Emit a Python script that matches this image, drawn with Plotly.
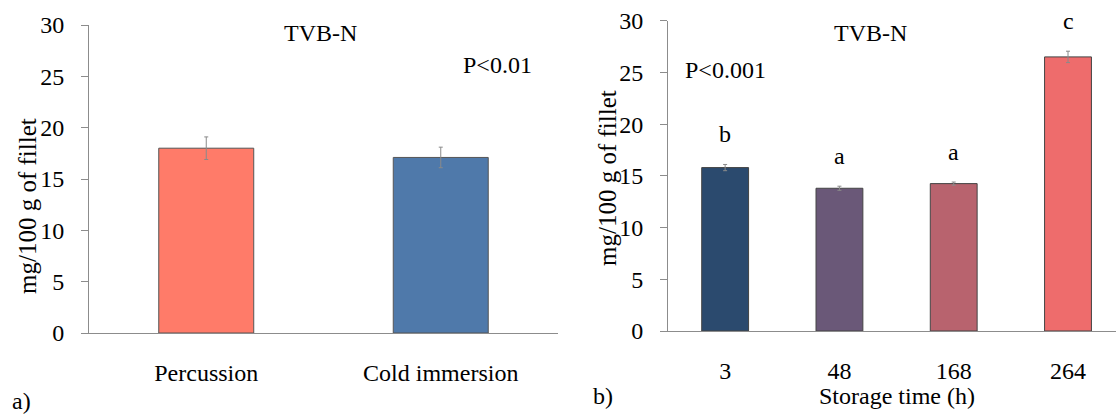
import plotly.graph_objects as go

# Data
methods = ["Percussion", "Cold immersion"]
method_vals = [18.0, 17.1]
method_err = [1.1, 1.0]
method_colors = ["#FF7B69", "#4F79AA"]

times = ["3", "48", "168", "264"]
time_vals = [15.8, 13.8, 14.25, 26.5]
time_err = [0.3, 0.2, 0.15, 0.55]
time_letters = ["b", "a", "a", "c"]
time_colors = ["#2B4A6E", "#6A5878", "#B8636E", "#EE6C6C"]

FONT = "Liberation Serif"
W, H = 1116, 417

fig = go.Figure()

fig.add_trace(go.Bar(
    x=methods, y=method_vals, width=0.405,
    marker=dict(color=method_colors, line=dict(color="#555555", width=1)),
    error_y=dict(type="data", array=method_err, color="#8a8a8a", thickness=1, width=2),
    xaxis="x", yaxis="y", showlegend=False))

fig.add_trace(go.Bar(
    x=times, y=time_vals, width=0.41,
    marker=dict(color=time_colors, line=dict(color="#444444", width=1)),
    error_y=dict(type="data", array=time_err, color="#8a8a8a", thickness=1, width=2),
    xaxis="x2", yaxis="y2", showlegend=False))

# letters above bars (data-anchored, category index)
for i, (v, e, l) in enumerate(zip(time_vals, time_err, time_letters)):
    fig.add_annotation(x=i, y=v + e, text=l, xref="x2", yref="y2",
                       showarrow=False, yanchor="bottom", yshift=15,
                       font=dict(family=FONT, size=24, color="black"))

axis_common = dict(showline=True, linecolor="#8c8c8c", linewidth=1,
                   showgrid=False, zeroline=False, automargin=False,
                   tickfont=dict(family=FONT, size=24, color="black"))

fig.update_layout(
    width=W, height=H,
    margin=dict(l=0, r=0, t=0, b=0, autoexpand=False),
    paper_bgcolor="white", plot_bgcolor="white",
    font=dict(family=FONT, color="black"),
    xaxis=dict(domain=[89 / W, 558 / W], anchor="y", range=[-0.5, 1.5],
               ticks="", ticklabelstandoff=18, **axis_common),
    yaxis=dict(domain=[(H - 333) / H, (H - 25) / H], anchor="x", range=[0, 30],
               dtick=5, ticks="outside", ticklen=7, tickcolor="#8c8c8c",
               ticklabelstandoff=12, **axis_common),
    xaxis2=dict(domain=[668 / W, 1.0], anchor="y2", range=[-0.5, 3.42],
                ticks="", ticklabelstandoff=18, **axis_common),
    yaxis2=dict(domain=[(H - 331) / H, (H - 20.7) / H], anchor="x2", range=[0, 30],
                dtick=5, ticks="outside", ticklen=7, tickcolor="#8c8c8c",
                ticklabelstandoff=12, **axis_common),
)

def ann(x, y, text, size=24, xanchor="center", angle=0):
    fig.add_annotation(x=x / W, y=1 - y / H, xref="paper", yref="paper",
                       text=text, showarrow=False, xanchor=xanchor, yanchor="middle",
                       textangle=angle,
                       font=dict(family=FONT, size=size, color="black"))

ann(27, 206, "mg/100 g of fillet", size=25, angle=-90)
ann(607, 178, "mg/100 g of fillet", size=25, angle=-90)
ann(320, 33, "TVB-N")
ann(497, 65, "P&lt;0.01")
ann(870, 33, "TVB-N")
ann(725, 70, "P&lt;0.001")
ann(897, 396, "Storage time (h)")
ann(10, 401, "a)", xanchor="left")
ann(591, 396, "b)", xanchor="left")

fig.write_html("out.html")
